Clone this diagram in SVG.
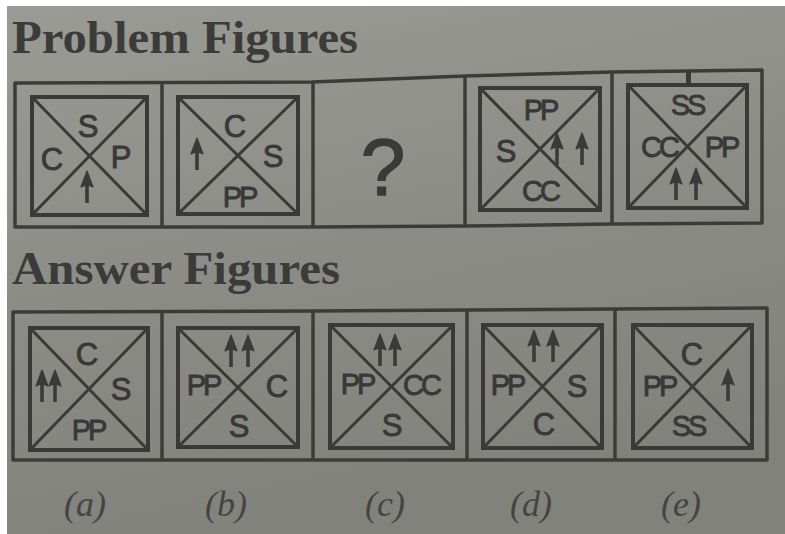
<svg xmlns="http://www.w3.org/2000/svg" xmlns:xlink="http://www.w3.org/1999/xlink" width="785" height="534" viewBox="0 0 785 534">
<defs>
<linearGradient id="bg" x1="0" y1="0" x2="0.3" y2="1">
<stop offset="0" stop-color="#9b9b95"/>
<stop offset="0.5" stop-color="#8d8d88"/>
<stop offset="1" stop-color="#82827d"/>
</linearGradient>
<g id="ar"><path d="M0,0V-22" stroke="#3a3a3a" stroke-width="3.6" fill="none"/><path d="M-6,-16 L0,-32 L6,-16 Q0,-19.5 -6,-16Z" fill="#3a3a3a" stroke="#3a3a3a" stroke-width="1.2" stroke-linejoin="round"/></g>
</defs>
<style>
.bx{fill:none;stroke:#393939;stroke-width:4}
.ob{fill:none;stroke:#3b3b3a;stroke-width:3.5;stroke-linejoin:round}
.dg{stroke:#393939;stroke-width:3}
.lt{font-family:"Liberation Sans",Arial,sans-serif;fill:#383838;stroke:#383838;stroke-width:0.9;text-anchor:middle;font-size:31px}
.dd{font-size:29px;letter-spacing:-3px}
.ttl{font-family:"Liberation Serif","Times New Roman",serif;font-weight:bold;fill:#3b3b39;font-size:47px}
.lab{font-family:"Liberation Serif","Times New Roman",serif;font-style:italic;fill:#444442;font-size:36px;text-anchor:middle}
</style>
<rect x="0" y="0" width="785" height="534" fill="#ffffff"/>
<rect x="7" y="6" width="778" height="528" fill="url(#bg)"/>

<text class="ttl" x="12" y="53" textLength="346" lengthAdjust="spacingAndGlyphs">Problem Figures</text>
<text class="ttl" x="12" y="284" textLength="328" lengthAdjust="spacingAndGlyphs">Answer Figures</text>

<g id="problem-strip">
<polygon class="ob" points="15,83 312,82 465,76 612,72 762,70 762,223 612,224 465,226 312,227 15,227"/>
<line class="ob" x1="162" y1="83" x2="162" y2="227"/>
<line class="ob" x1="313" y1="82" x2="313" y2="227"/>
<line class="ob" x1="465" y1="76" x2="465" y2="226"/>
<line class="ob" x1="612" y1="72" x2="612" y2="224"/>
</g>

<g id="p1">
<rect class="bx" x="32" y="97" width="115" height="118"/>
<line class="dg" x1="32" y1="97" x2="147" y2="215"/><line class="dg" x1="147" y1="97" x2="32" y2="215"/>
<text class="lt" x="88" y="137">S</text>
<text class="lt" x="52" y="170" font-size="33">C</text>
<text class="lt" x="121" y="168">P</text>
<use xlink:href="#ar" transform="translate(87,203)"/>
</g>

<g id="p2">
<rect class="bx" x="178" y="97" width="120" height="117"/>
<line class="dg" x1="178" y1="97" x2="298" y2="214"/><line class="dg" x1="298" y1="97" x2="178" y2="214"/>
<text class="lt" x="235" y="137" font-size="33">C</text>
<text class="lt" x="273" y="167">S</text>
<text class="lt dd" x="239" y="207">PP</text>
<use xlink:href="#ar" transform="translate(197,170)"/>
</g>

<g id="p3">
<text x="383" y="195" font-family="'Liberation Sans',Arial,sans-serif" font-size="80" fill="#3a3a3a" stroke="#3a3a3a" stroke-width="1.5" text-anchor="middle">?</text>
</g>

<g id="p4">
<rect class="bx" x="480" y="88" width="120" height="122"/>
<line class="dg" x1="480" y1="88" x2="600" y2="210"/><line class="dg" x1="600" y1="88" x2="480" y2="210"/>
<text class="lt dd" x="540" y="120">PP</text>
<text class="lt" x="506" y="162">S</text>
<text class="lt dd" x="540" y="201">CC</text>
<use xlink:href="#ar" transform="translate(557,165)"/>
<use xlink:href="#ar" transform="translate(582,165)"/>
</g>

<g id="p5">
<rect x="686" y="70" width="5" height="17" fill="#3a3a3a"/>
<rect class="bx" x="628" y="85" width="119" height="123"/>
<line class="dg" x1="628" y1="85" x2="747" y2="208"/><line class="dg" x1="747" y1="85" x2="628" y2="208"/>
<text class="lt dd" x="687" y="115">SS</text>
<text class="lt dd" x="659" y="157">CC</text>
<text class="lt dd" x="721" y="157">PP</text>
<use xlink:href="#ar" transform="translate(676,200)"/>
<use xlink:href="#ar" transform="translate(696,200)"/>
</g>

<g id="answer-strip">
<polygon class="ob" points="13,312 313,311 467,310 615,309 767,308 767,460 615,460 467,460 313,460 13,460"/>
<line class="ob" x1="162" y1="312" x2="162" y2="460"/>
<line class="ob" x1="313" y1="311" x2="313" y2="460"/>
<line class="ob" x1="467" y1="310" x2="467" y2="460"/>
<line class="ob" x1="615" y1="309" x2="615" y2="460"/>
</g>

<g id="a">
<rect class="bx" x="30" y="328" width="118" height="122"/>
<line class="dg" x1="30" y1="328" x2="148" y2="450"/><line class="dg" x1="148" y1="328" x2="30" y2="450"/>
<text class="lt" x="87" y="365" font-size="28">C</text>
<text class="lt" x="121" y="400">S</text>
<text class="lt dd" x="88" y="440">PP</text>
<use xlink:href="#ar" transform="translate(42,402)"/>
<use xlink:href="#ar" transform="translate(55,402)"/>
</g>

<g id="b">
<rect class="bx" x="178" y="328" width="120" height="119"/>
<line class="dg" x1="178" y1="328" x2="298" y2="447"/><line class="dg" x1="298" y1="328" x2="178" y2="447"/>
<text class="lt dd" x="203" y="395" font-size="25">PP</text>
<text class="lt" x="277" y="397">C</text>
<text class="lt" x="239" y="437">S</text>
<use xlink:href="#ar" transform="translate(231,367)"/>
<use xlink:href="#ar" transform="translate(248,367)"/>
</g>

<g id="c">
<rect class="bx" x="330" y="325" width="123" height="123"/>
<line class="dg" x1="330" y1="325" x2="453" y2="448"/><line class="dg" x1="453" y1="325" x2="330" y2="448"/>
<text class="lt dd" x="357" y="394" font-size="26">PP</text>
<text class="lt dd" x="421" y="395">CC</text>
<text class="lt" x="392" y="436">S</text>
<use xlink:href="#ar" transform="translate(380,366)"/>
<use xlink:href="#ar" transform="translate(395,366)"/>
</g>

<g id="d">
<rect class="bx" x="483" y="325" width="119" height="123"/>
<line class="dg" x1="483" y1="325" x2="602" y2="448"/><line class="dg" x1="602" y1="325" x2="483" y2="448"/>
<text class="lt dd" x="507" y="395">PP</text>
<text class="lt" x="577" y="397">S</text>
<text class="lt" x="544" y="435" font-size="28">C</text>
<use xlink:href="#ar" transform="translate(534,362)"/>
<use xlink:href="#ar" transform="translate(553,362)"/>
</g>

<g id="e">
<rect class="bx" x="633" y="325" width="119" height="123"/>
<line class="dg" x1="633" y1="325" x2="752" y2="448"/><line class="dg" x1="752" y1="325" x2="633" y2="448"/>
<text class="lt" x="692" y="365">C</text>
<text class="lt dd" x="659" y="396">PP</text>
<text class="lt dd" x="688" y="436">SS</text>
<use xlink:href="#ar" transform="translate(728,401)"/>
</g>

<g id="labels">
<text class="lab" x="85" y="516">(a)</text>
<text class="lab" x="226" y="516">(b)</text>
<text class="lab" x="385" y="516">(c)</text>
<text class="lab" x="531" y="516">(d)</text>
<text class="lab" x="681" y="516">(e)</text>
</g>
</svg>
